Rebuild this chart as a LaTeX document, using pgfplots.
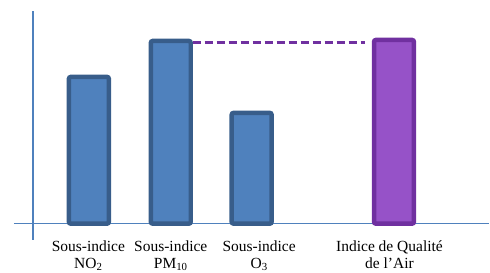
\documentclass[border=0pt]{standalone}
\usepackage{pgfplots}
\pgfplotsset{compat=1.18}
\usepackage{fontspec}
\setmainfont{Liberation Serif}
\definecolor{barblue}{RGB}{79,129,189}
\definecolor{edgeblue}{RGB}{56,93,138}
\definecolor{barpurple}{RGB}{150,82,200}
\definecolor{edgepurple}{RGB}{112,48,160}
\definecolor{axisblue}{RGB}{79,129,189}
\begin{document}
\begin{tikzpicture}
\begin{axis}[
  scale only axis,
  width=476pt, height=229pt,
  xmin=-19, xmax=457,
  ymin=-16, ymax=213,
  axis x line*=middle,
  axis y line*=middle,
  axis line style={axisblue, line width=1.3pt},
  ytick=\empty,
  xtick={55.5,138,226.5,357},
  xticklabels={{Sous-indice\\NO\textsubscript{2}},{Sous-indice\\PM\textsubscript{10}},{Sous-indice\\O\textsubscript{3}},{Indice de Qualité\\de l’Air}},
  xticklabel style={align=center, font=\fontsize{15.5}{16.5}\selectfont, yshift=-17pt, inner sep=0pt},
  major tick length=0pt,
  clip=false,
  ybar, bar shift=0pt, bar width=40pt,
]
\addplot[fill=barblue, draw=edgeblue, line width=4.5pt, rounded corners=2pt]
  coordinates {(56,147) (138,183) (219,111)};
\addplot[fill=barpurple, draw=edgepurple, line width=4.5pt, rounded corners=2pt]
  coordinates {(361.5,184)};
\addplot[sharp plot, edgepurple, line width=3pt, dash pattern=on 8pt off 4pt]
  coordinates {(160,181) (332,181)};
\coordinate (bl) at (axis cs:-33,-49);
\coordinate (tr) at (axis cs:457,224);
\end{axis}
\useasboundingbox (bl) rectangle (tr);
\end{tikzpicture}
\end{document}
